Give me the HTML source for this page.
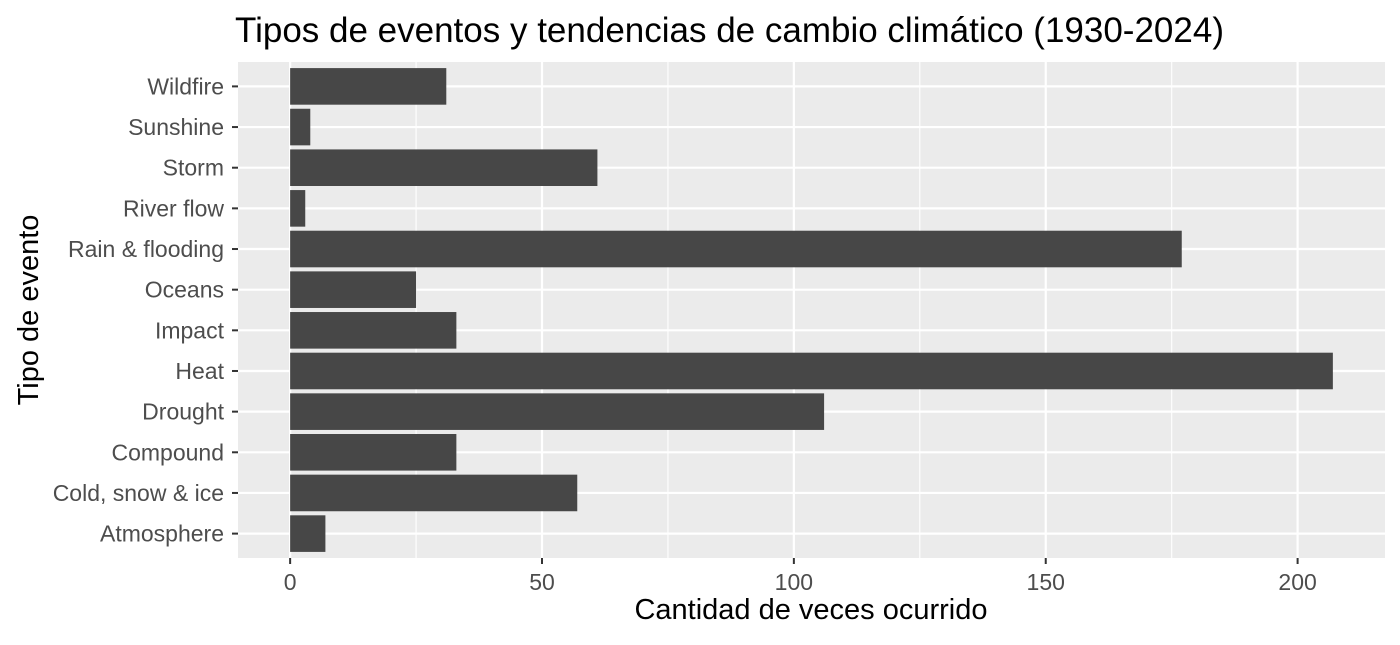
<!DOCTYPE html>
<html><head><meta charset="utf-8"><style>
body{margin:0;background:#fff;font-family:"Liberation Sans",Arial,sans-serif}
</style></head><body>
<svg id="chart" width="1400" height="640" xmlns="http://www.w3.org/2000/svg" font-family="Liberation Sans, Arial, sans-serif">
<text x="235" y="42" font-size="35" fill="#000">Tipos de eventos y tendencias de cambio climático (1930-2024)</text>
<rect x="238" y="62" width="1147" height="496" fill="#ebebeb"/>
<g id="grid"></g><g id="bars"></g><g id="axes"></g>
<text x="811" y="619" font-size="29" text-anchor="middle">Cantidad de veces ocurrido</text>
<text transform="translate(38,310) rotate(-90)" font-size="29" text-anchor="middle">Tipo de evento</text>
</svg>
<script>
const categories=["Atmosphere","Cold, snow & ice","Compound","Drought","Heat","Impact","Oceans","Rain & flooding","River flow","Storm","Sunshine","Wildfire"];
const values=[7,57,33,106,207,33,25,177,3,61,4,31];
const xTicks=[0,50,100,150,200];
const NS="http://www.w3.org/2000/svg";
const px0=238,px1=1385,py0=62,py1=558;
const xmin=-10.35,xmax=217.35;
const x=v=>px0+(v-xmin)/(xmax-xmin)*(px1-px0);
const n=categories.length;
const step=(py1-py0)/(n-1+1.2);
const y=i=>py1-(0.6+i)*step;
function mk(tag,attrs,parent){const e=document.createElementNS(NS,tag);for(const k in attrs)e.setAttribute(k,attrs[k]);document.getElementById(parent).appendChild(e);return e;}
const grid='grid',bars='bars',axes='axes';
for(let i=0;i<xTicks.length-1;i++){const m=(xTicks[i]+xTicks[i+1])/2;
const g=mk('line',{x1:x(m),x2:x(m),y1:py0,y2:py1,stroke:'#fff','stroke-width':1.1},grid);

}
xTicks.forEach(t=>{
const g=mk('line',{x1:x(t),x2:x(t),y1:py0,y2:py1,stroke:'#fff','stroke-width':2.2},grid);


const tk=mk('line',{x1:x(t),x2:x(t),y1:py1,y2:py1+6,stroke:'#333','stroke-width':2},axes);


const tl=mk('text',{x:x(t),y:py1+32,'font-size':23,fill:'#4d4d4d','text-anchor':'middle'},axes);
tl.textContent=t;


});
categories.forEach((c,i)=>{
const g=mk('line',{x1:px0,x2:px1,y1:y(i),y2:y(i),stroke:'#fff','stroke-width':2.2},grid);


const h=step*0.9;
const b=mk('rect',{x:x(0),y:y(i)-h/2,width:x(values[i])-x(0),height:h,fill:'#474747'},bars);


const tk=mk('line',{x1:px0-6,x2:px0,y1:y(i),y2:y(i),stroke:'#333','stroke-width':2},axes);


const tl=mk('text',{x:px0-14,y:y(i)+8,'font-size':23,fill:'#4d4d4d','text-anchor':'end'},axes);
tl.textContent=c;


});
</script>
</body></html>
